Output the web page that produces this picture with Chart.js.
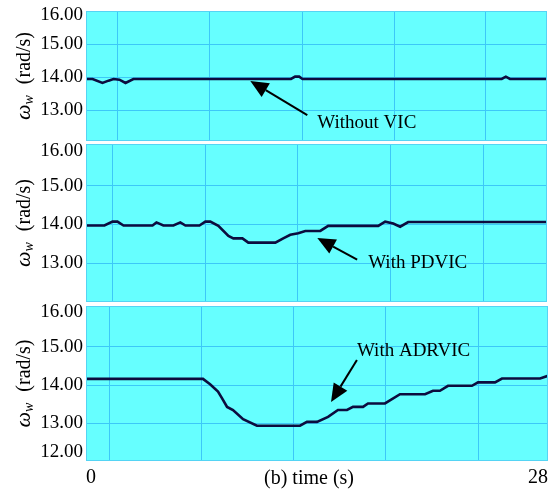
<!DOCTYPE html>
<html>
<head>
<meta charset="utf-8">
<script src="https://cdn.jsdelivr.net/npm/chart.js@4.4.1/dist/chart.umd.min.js"></script>
<style>
  html, body { margin: 0; padding: 0; background: #fff; }
  #wrap { position: relative; width: 551px; height: 489px; overflow: hidden; }
  #wrap canvas { position: absolute; left: 0; }
</style>
</head>
<body>
<div id="wrap">
  <canvas id="c1" width="551" height="141" style="top:0"></canvas>
  <canvas id="c2" width="551" height="172" style="top:130px"></canvas>
  <canvas id="c3" width="551" height="194" style="top:295px"></canvas>
</div>
<script>
// rotor speed (rad/s) vs time (s)
const tNoVic = [0, 0.4, 1.0, 1.37, 1.67, 2.03, 2.4, 2.88, 12.45, 12.7, 12.95, 13.15, 25.25, 25.5, 25.75, 28];
const wNoVic = [13.95, 13.95, 13.83, 13.90, 13.95, 13.93, 13.83, 13.95, 13.95, 14.02, 14.02, 13.95, 13.95, 14.02, 13.95, 13.95];

const tPdvic = [0, 1.12, 1.61, 1.91, 2.28, 4.04, 4.28, 4.70, 5.31, 5.73, 6.04, 6.89, 7.25, 7.55, 8.04, 8.65,
                8.95, 9.50, 9.86, 11.50, 11.98, 12.41, 12.89, 13.32, 14.23, 14.71, 17.75, 18.17, 18.66, 19.08, 19.57, 28];
const wPdvic = [13.97, 13.97, 14.07, 14.07, 13.97, 13.97, 14.05, 13.97, 13.97, 14.05, 13.97, 13.97, 14.07, 14.07, 13.96, 13.70,
                13.64, 13.64, 13.53, 13.53, 13.64, 13.73, 13.77, 13.83, 13.83, 13.96, 13.96, 14.07, 14.02, 13.94, 14.06, 14.06];

const tAdrvic = [0, 7.09, 7.52, 8.00, 8.24, 8.55, 8.91, 9.52, 10.36, 12.97, 13.39, 14.00, 14.67, 15.27, 15.82,
                 16.18, 16.79, 17.09, 18.12, 19.03, 20.55, 21.03, 21.45, 21.94, 23.39, 23.76, 24.79, 25.21, 27.52, 28];
const wAdrvic = [14.16, 14.16, 14.02, 13.83, 13.66, 13.43, 13.35, 13.11, 12.94, 12.94, 13.04, 13.04, 13.17, 13.35, 13.35,
                 13.43, 13.43, 13.52, 13.52, 13.76, 13.76, 13.85, 13.85, 13.98, 13.98, 14.07, 14.07, 14.17, 14.17, 14.24];

// tick values
const yTicksTop = [13, 14, 15, 16];
const yTicksFull = [12, 13, 14, 15, 16];
const xLabelValues = [0, 28];
// vertical grid lines of each panel (s)
const gridNoVic = [1.93, 7.49, 13.14, 18.72, 24.29];
const gridPdvic = [1.63, 7.25, 12.83, 18.48, 24.12];
const gridAdrvic = [1.41, 7.03, 12.55, 18.18, 23.76];

const serif = '"Liberation Serif", "Times New Roman", serif';
const plotBg = '#66FFFF';
const gridColor = '#3CC8F8';
const edgeColor = '#55D4F4';
const lineColor = '#0C0C3E';

const panelDecor = {
  id: 'panelDecor',
  beforeDraw(chart) {
    const { ctx, chartArea: a } = chart;
    ctx.save();
    ctx.fillStyle = plotBg;
    ctx.fillRect(a.left, a.top, a.width, a.height);
    ctx.restore();
  },
  afterDraw(chart, args, opts) {
    const { ctx, chartArea: a, scales: { x, y } } = chart;
    ctx.save();
    ctx.strokeStyle = edgeColor;
    ctx.lineWidth = 1;
    ctx.strokeRect(a.left + 0.5, a.top + 0.5, a.width - 1, a.height - 1);

    // y axis title: omega_w (rad/s)
    ctx.translate(30, (a.top + a.bottom) / 2);
    ctx.rotate(-Math.PI / 2);
    ctx.fillStyle = '#000';
    ctx.textBaseline = 'alphabetic';
    const fBig = 'italic 22px ' + serif, fSub = 'italic 14px ' + serif, fTxt = '20px ' + serif;
    ctx.font = fBig; const w1 = ctx.measureText('ω').width;
    ctx.font = fSub; const w2 = ctx.measureText('w').width;
    ctx.font = fTxt; const w3 = ctx.measureText('(rad/s)').width;
    const gap = 11;
    const x0 = -(w1 + w2 + gap + w3) / 2;
    ctx.font = fBig; ctx.fillText('ω', x0, 0);
    ctx.font = fSub; ctx.fillText('w', x0 + w1, 3);
    ctx.font = fTxt; ctx.fillText('(rad/s)', x0 + w1 + w2 + gap, 0);
    ctx.setTransform(1, 0, 0, 1, 0, 0);

    // arrow + label
    const n = opts.note;
    if (n) {
      const tx = x.getPixelForValue(n.tip[0]), ty = y.getPixelForValue(n.tip[1]);
      const sx = x.getPixelForValue(n.tail[0]), sy = y.getPixelForValue(n.tail[1]);
      const ang = Math.atan2(ty - sy, tx - sx);
      const hl = 18, hw = 8;
      const bx = tx - hl * Math.cos(ang), by = ty - hl * Math.sin(ang);
      ctx.strokeStyle = '#000';
      ctx.lineWidth = 2;
      ctx.beginPath();
      ctx.moveTo(sx, sy);
      ctx.lineTo(bx, by);
      ctx.stroke();
      ctx.fillStyle = '#000';
      ctx.beginPath();
      ctx.moveTo(tx, ty);
      ctx.lineTo(bx + hw * Math.sin(ang), by - hw * Math.cos(ang));
      ctx.lineTo(bx - hw * Math.sin(ang), by + hw * Math.cos(ang));
      ctx.closePath();
      ctx.fill();
      ctx.font = '19px ' + serif;
      ctx.textAlign = 'left';
      ctx.textBaseline = 'middle';
      ctx.fillText(n.text, x.getPixelForValue(n.at[0]), y.getPixelForValue(n.at[1]));
    }

    if (opts.xTitle) {
      ctx.font = '20px ' + serif;
      ctx.fillStyle = '#000';
      ctx.textAlign = 'center';
      ctx.textBaseline = 'middle';
      ctx.fillText(opts.xTitle, (a.left + a.right) / 2 - 8, a.bottom + 18);
    }
    ctx.restore();
  }
};

function makePanel(id, times, values, o) {
  const edge = v => v === 16 || v === 12;
  new Chart(document.getElementById(id), {
    type: 'line',
    data: {
      datasets: [{
        data: times.map((t, i) => ({ x: t, y: values[i] })),
        borderColor: lineColor,
        borderWidth: 2.6,
        pointRadius: 0,
        tension: 0,
        fill: false
      }]
    },
    options: {
      responsive: false,
      animation: false,
      layout: { padding: { top: o.padTop, right: o.padRight, bottom: 0, left: 0 } },
      plugins: {
        legend: { display: false },
        tooltip: { enabled: false },
        panelDecor: { note: o.note, xTitle: o.xTitle }
      },
      scales: {
        x: {
          type: 'linear',
          min: 0,
          max: 28,
          afterBuildTicks: s => {
            const vals = o.showX ? o.grid.concat(xLabelValues) : o.grid.slice();
            s.ticks = vals.sort((a, b) => a - b).map(v => ({ value: v }));
          },
          afterFit: s => {
            s.height = o.showX ? 28 : 0;
            s.paddingLeft = 0;
            s.paddingRight = 0;
          },
          grid: {
            color: c => (c.tick && o.grid.includes(c.tick.value)) ? gridColor : 'rgba(0,0,0,0)',
            drawTicks: false,
            lineWidth: 1
          },
          border: { display: false },
          ticks: {
            display: o.showX,
            autoSkip: false,
            maxRotation: 0,
            align: 'inner',
            padding: 5,
            color: '#000',
            font: { family: serif, size: 20 },
            callback: v => xLabelValues.includes(v) ? String(v) : ''
          }
        },
        y: {
          min: o.yMin,
          max: o.yMax,
          afterFit: s => {
            s.width = 86;
            s.paddingTop = 0;
            s.paddingBottom = 0;
          },
          afterBuildTicks: s => { s.ticks = o.yTicks.map(v => ({ value: v })); },
          grid: {
            color: c => (c.tick && !edge(c.tick.value)) ? gridColor : 'rgba(0,0,0,0)',
            drawTicks: false,
            lineWidth: 1
          },
          border: { display: false },
          ticks: {
            autoSkip: false,
            padding: 3,
            color: '#000',
            font: c => {
              const v = c.tick ? c.tick.value : 0;
              return { family: serif, size: 19, lineHeight: v === 16 ? '8px' : (v === 12 ? '20px' : 1) };
            },
            callback: v => v === 16 ? ['', '16.00'] : (v === 12 ? ['12.00', ''] : v.toFixed(2))
          }
        }
      }
    },
    plugins: [panelDecor]
  });
}

makePanel('c1', tNoVic, wNoVic, {
  yMin: 12.08, yMax: 16, yTicks: yTicksTop, grid: gridNoVic, padTop: 11, padRight: 4, showX: false,
  note: { tip: [9.98, 13.89], tail: [13.44, 12.86], at: [14.05, 12.61], text: 'Without VIC' }
});
makePanel('c2', tPdvic, wPdvic, {
  yMin: 12.0, yMax: 16.07, yTicks: yTicksTop, grid: gridPdvic, padTop: 14, padRight: 4, showX: false,
  note: { tip: [14.05, 13.65], tail: [16.47, 13.09], at: [17.14, 13.0], text: 'With PDVIC' }
});
makePanel('c3', tAdrvic, wAdrvic, {
  yMin: 12.02, yMax: 16.06, yTicks: yTicksFull, grid: gridAdrvic, padTop: 11, padRight: 3, showX: true,
  xTitle: '(b) time (s)',
  note: { tip: [14.85, 13.56], tail: [16.42, 14.65], at: [16.42, 14.89], text: 'With ADRVIC' }
});
</script>
</body>
</html>
